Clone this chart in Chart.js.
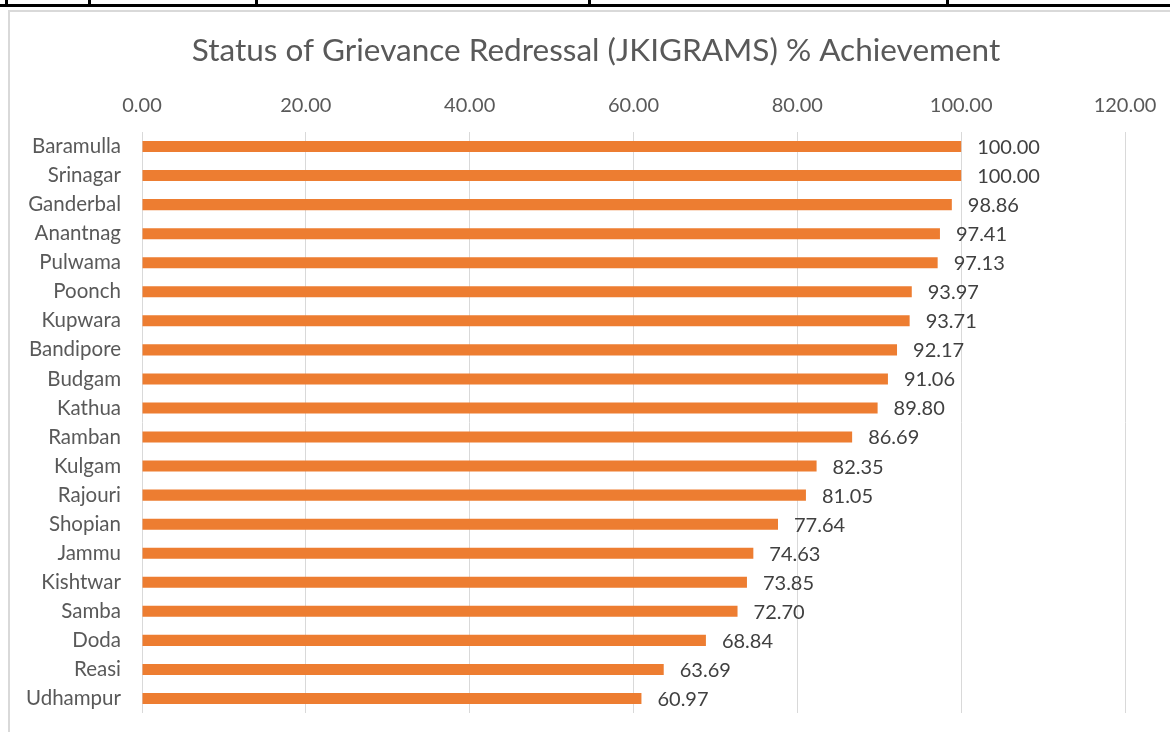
<!DOCTYPE html>
<html>
<head>
<meta charset="utf-8">
<title>Grievance Redressal</title>
<script src="https://cdn.jsdelivr.net/npm/chart.js@4.4.1/dist/chart.umd.min.js"></script>
<style>
  html, body { margin: 0; padding: 0; background: #fff; }
  #wrap { position: relative; width: 1170px; height: 732px; }
</style>
</head>
<body>
<div id="wrap"><canvas id="grievChart" width="1170" height="732"></canvas></div>
<script>
// districts, top to bottom
const districts = [
  "Baramulla", "Srinagar", "Ganderbal", "Anantnag", "Pulwama", "Poonch",
  "Kupwara", "Bandipore", "Budgam", "Kathua", "Ramban", "Kulgam",
  "Rajouri", "Shopian", "Jammu", "Kishtwar", "Samba", "Doda", "Reasi", "Udhampur"
];
const achievement = [
  100.00, 100.00, 98.86, 97.41, 97.13, 93.97,
  93.71, 92.17, 91.06, 89.80, 86.69, 82.35,
  81.05, 77.64, 74.63, 73.85, 72.70, 68.84, 63.69, 60.97
];
const axisMin = 0;
const axisMax = 120;
const axisStep = 20;
const chartTitle = "Status of Grievance Redressal (JKIGRAMS) % Achievement";

const FONT = "Lato, 'Open Sans', sans-serif";
const TEXT = "#595959";

// table rule above the chart, the chart frame and the title
const framePlugin = {
  id: "frame",
  beforeDraw(chart) {
    const c = chart.ctx;
    c.save();
    c.fillStyle = "#000";
    c.fillRect(0, 4, 1170, 3);
    [5, 88, 255, 588, 946].forEach(x => c.fillRect(x, 0, 3, 7));
    c.strokeStyle = "#d9d9d9";
    c.lineWidth = 2;
    c.beginPath();
    c.moveTo(9, 740);
    c.lineTo(9, 11);
    c.lineTo(1180, 11);
    c.stroke();

    // title is centred on the whole frame, not on the plot
    c.font = "31.5px " + FONT;
    c.fillStyle = TEXT;
    c.textAlign = "center";
    c.textBaseline = "middle";
    c.fillText(chartTitle, 596, 51);
    c.restore();
  }
};

// value printed just past each bar end
const valueLabels = {
  id: "valueLabels",
  afterDatasetsDraw(chart) {
    const c = chart.ctx;
    const meta = chart.getDatasetMeta(0);
    c.save();
    c.font = "20px " + FONT;
    c.fillStyle = "#404040";
    c.textAlign = "left";
    c.textBaseline = "middle";
    meta.data.forEach((bar, i) => {
      c.fillText(achievement[i].toFixed(2), bar.x + 16, bar.y + 1);
    });
    c.restore();
  }
};

new Chart(document.getElementById("grievChart"), {
  type: "bar",
  data: {
    labels: districts,
    datasets: [{
      data: achievement,
      backgroundColor: "#ED7D31",
      barPercentage: 0.38,
      categoryPercentage: 1
    }]
  },
  options: {
    indexAxis: "y",
    responsive: false,
    animation: false,
    layout: { padding: { left: 0, right: 45, top: 0, bottom: 19 } },
    plugins: {
      legend: { display: false },
      tooltip: { enabled: false },
      title: { display: false }
    },
    scales: {
      x: {
        position: "top",
        min: axisMin,
        max: axisMax,
        ticks: {
          stepSize: axisStep,
          padding: 14,
          color: TEXT,
          font: { family: FONT, size: 20 },
          callback: v => Number(v).toFixed(2)
        },
        grid: { color: "#d9d9d9", drawTicks: false },
        border: { display: false },
        afterFit(scale) {
          scale.height = 132;
          scale.paddingLeft = 0;
          scale.paddingRight = 0;
        }
      },
      y: {
        ticks: {
          padding: 21,
          color: TEXT,
          font: { family: FONT, size: 20.5 }
        },
        grid: { display: false, drawTicks: false },
        border: { display: false },
        afterFit(scale) {
          scale.width = 142;
          scale.paddingTop = 0;
          scale.paddingBottom = 0;
        }
      }
    }
  },
  plugins: [framePlugin, valueLabels]
});
</script>
</body>
</html>
